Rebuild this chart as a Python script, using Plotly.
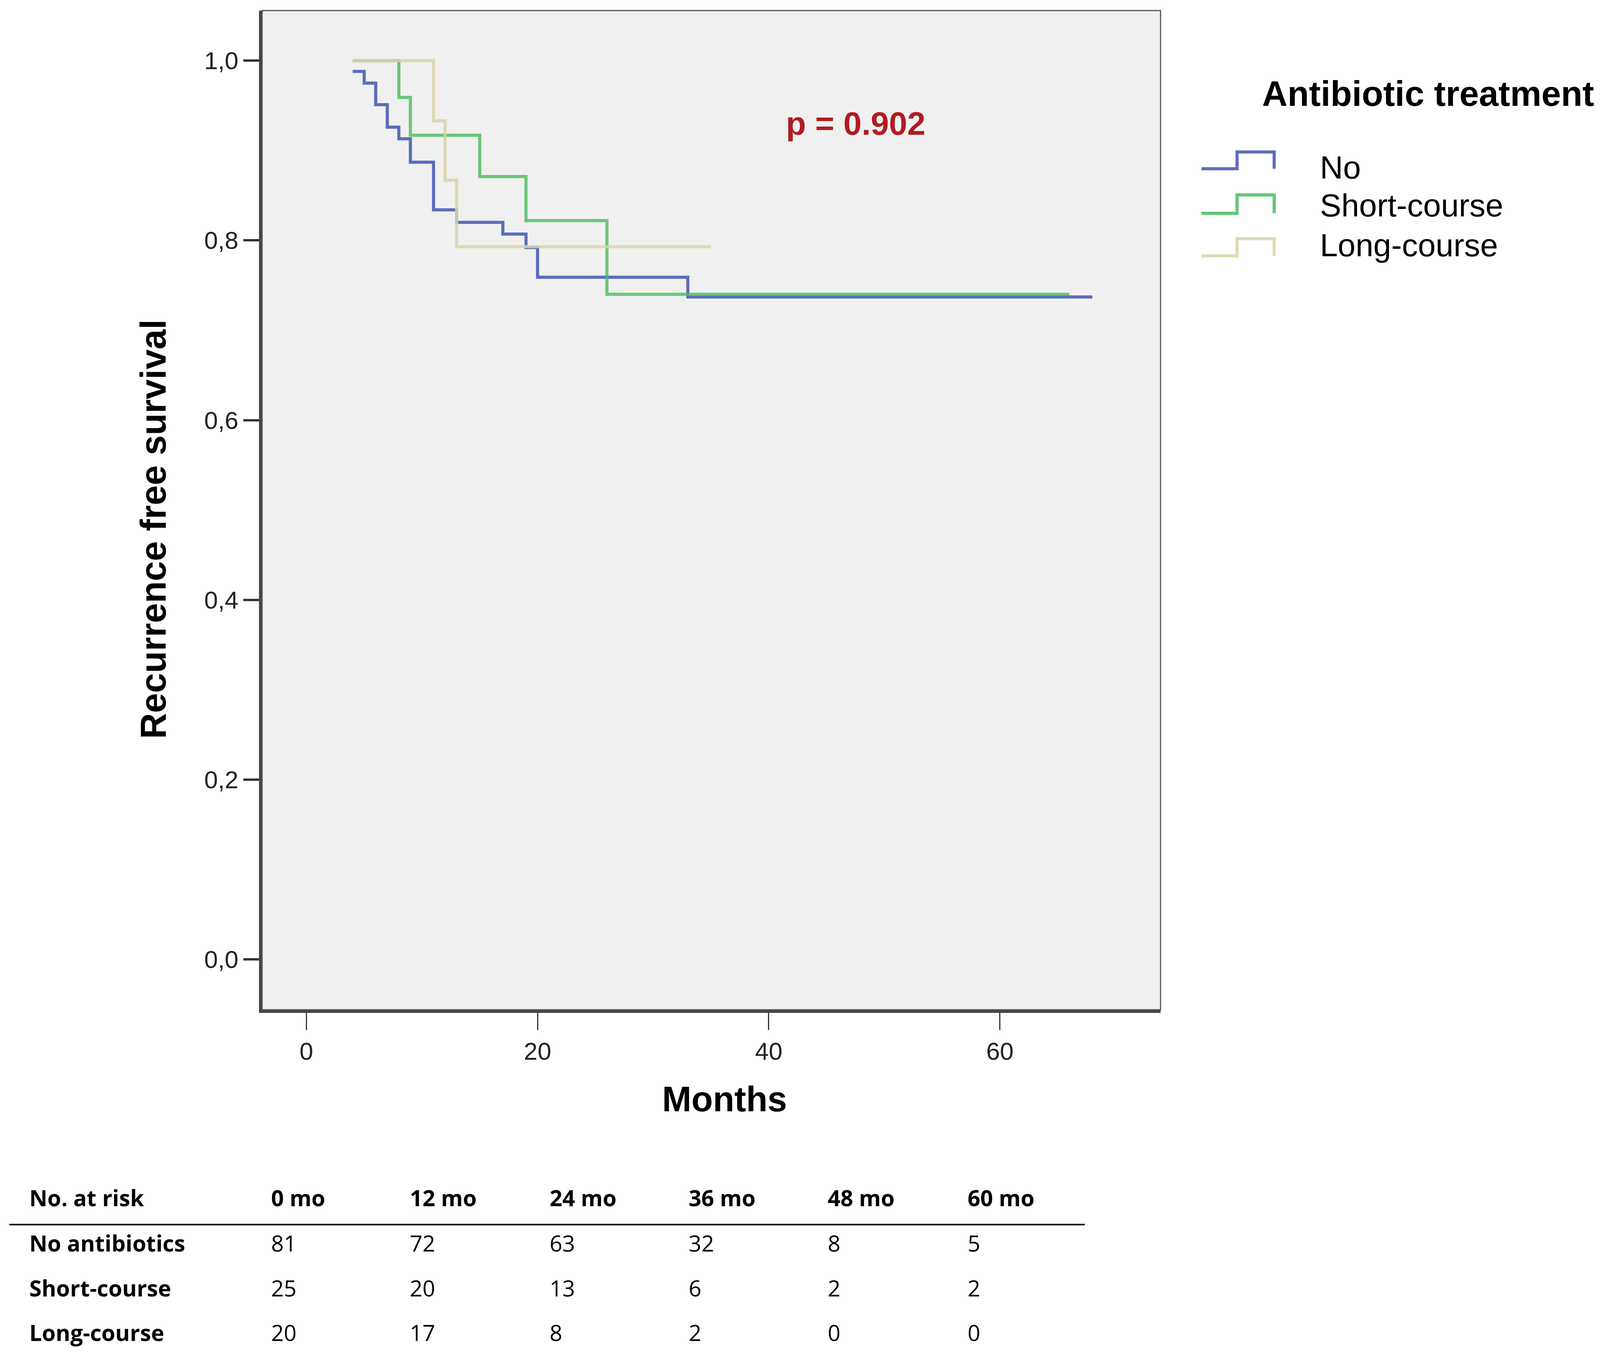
import plotly.graph_objects as go

# Kaplan-Meier steps (months, survival)
no_t = [4, 5, 6, 7, 8, 9, 11, 13, 17, 19, 20, 33, 68]
no_s = [0.988, 0.975, 0.951, 0.926, 0.913, 0.887, 0.834, 0.820, 0.807, 0.792, 0.759, 0.737, 0.737]

short_t = [4, 8, 9, 15, 19, 26, 66]
short_s = [1.0, 0.959, 0.917, 0.871, 0.822, 0.740, 0.740]

long_t = [4, 11, 12, 13, 35]
long_s = [1.0, 0.933, 0.867, 0.793, 0.793]

group_names = ["No", "Short-course", "Long-course"]
group_colors = ["#4257b2", "#47bd5a", "#dad4a9"]

p_text = "p = 0.902"

# number at risk table
risk_cols = ["0 mo", "12 mo", "24 mo", "36 mo", "48 mo", "60 mo"]
risk_rows = ["No antibiotics", "Short-course", "Long-course"]
risk_no = [81, 72, 63, 32, 8, 5]
risk_short = [25, 20, 13, 6, 2, 2]
risk_long = [20, 17, 8, 2, 0, 0]

# the visible page area is about 4094 x 3474, the figure sits 8px in from the corner
SX, SY = 4094 / 4265, 1.0
FS = 0.98
W, H = 4078, 3458


def fx(x):
    return x * SX - 8


def fy(y):
    return y * SY - 8


L, R, T, B = fx(699), fx(3095), fy(27), fy(2585)


def px(x):
    return (fx(x) - L) / (R - L)


def py(y):
    return (B - fy(y)) / (B - T)


def fs(size):
    return round(size * FS)


FONT = "Liberation Sans, Arial, sans-serif"
TFONT = "Open Sans, sans-serif"

fig = go.Figure()

series = [(no_t, no_s, 0, 0.85), (short_t, short_s, 1, 0.8), (long_t, long_s, 2, 0.85)]
for t, s, i, op in series:
    fig.add_trace(go.Scatter(
        x=t, y=s, mode="lines", line_shape="hv",
        line=dict(color=group_colors[i], width=8),
        opacity=op, name=group_names[i], showlegend=False,
    ))

shapes = []
annotations = []

# frame
shapes.append(dict(type="rect", xref="paper", yref="paper", x0=0, x1=1, y0=0, y1=1,
                   line=dict(color="#555555", width=3)))

# custom legend with step icons
annotations.append(dict(text="<b>Antibiotic treatment</b>", xref="paper", yref="paper",
                        x=px(3364), y=py(240), xanchor="left", yanchor="middle",
                        showarrow=False, font=dict(family=FONT, size=fs(92), color="black")))
icon_rows = [(432, 389, 424), (546, 499, 522), (655, 611, 623)]
for i, (low, high, ty) in enumerate(icon_rows):
    path = "M {} {} L {} {} L {} {} L {} {} L {} {}".format(
        px(3204), py(low), px(3299), py(low), px(3299), py(high),
        px(3398), py(high), px(3398), py(low))
    shapes.append(dict(type="path", xref="paper", yref="paper", path=path,
                       line=dict(color=group_colors[i], width=8), opacity=0.85))
    annotations.append(dict(text=group_names[i], xref="paper", yref="paper",
                            x=px(3518), y=py(ty + 4), xanchor="left", yanchor="middle",
                            showarrow=False, font=dict(family=FONT, size=fs(84), color="black")))

# p-value
annotations.append(dict(text="<b>" + p_text + "</b>", xref="paper", yref="paper",
                        x=px(2282), y=py(316), xanchor="center", yanchor="middle",
                        showarrow=False, font=dict(family=FONT, size=fs(86), color="#b01c22")))

# axis titles
annotations.append(dict(text="<b>Recurrence free survival</b>", xref="paper", yref="paper",
                        x=px(408), y=py(1355), xanchor="center", yanchor="middle",
                        textangle=-90, showarrow=False,
                        font=dict(family=FONT, size=fs(94), color="black")))
annotations.append(dict(text="<b>Months</b>", xref="paper", yref="paper",
                        x=px(1932), y=py(2814), xanchor="center", yanchor="middle",
                        showarrow=False, font=dict(family=FONT, size=fs(92), color="black")))

# number at risk table
col_x = [721, 1091, 1464, 1834, 2205, 2578]
row_y = [3182, 3297, 3411]
tfont = dict(family=TFONT, size=fs(58), color="black")
annotations.append(dict(text="<b>No. at risk</b>", xref="paper", yref="paper",
                        x=px(76), y=py(3066), xanchor="left", yanchor="middle",
                        showarrow=False, font=tfont))
for c, cx in zip(risk_cols, col_x):
    annotations.append(dict(text="<b>" + c + "</b>", xref="paper", yref="paper",
                            x=px(cx), y=py(3066), xanchor="left", yanchor="middle",
                            showarrow=False, font=tfont))
for name, vals, ry in zip(risk_rows, [risk_no, risk_short, risk_long], row_y):
    annotations.append(dict(text="<b>" + name + "</b>", xref="paper", yref="paper",
                            x=px(76), y=py(ry), xanchor="left", yanchor="middle",
                            showarrow=False, font=tfont))
    for v, cx in zip(vals, col_x):
        annotations.append(dict(text=str(v), xref="paper", yref="paper",
                                x=px(cx), y=py(ry), xanchor="left", yanchor="middle",
                                showarrow=False, font=tfont))
shapes.append(dict(type="line", xref="paper", yref="paper",
                   x0=px(25), x1=px(2893), y0=py(3135), y1=py(3135),
                   line=dict(color="black", width=4)))

fig.update_layout(
    width=W, height=H,
    margin=dict(l=L, r=W - R, t=T, b=H - B),
    paper_bgcolor="white", plot_bgcolor="#f0f0f0",
    separators=", ",
    showlegend=False,
    shapes=shapes, annotations=annotations,
    xaxis=dict(range=[-3.83, 73.9], tickvals=[0, 20, 40, 60], showgrid=False, zeroline=False,
               showline=True, linecolor="#444444", linewidth=8,
               ticks="outside", ticklen=44, tickwidth=3, tickcolor="#333333",
               tickfont=dict(family=FONT, size=fs(64), color="#222222")),
    yaxis=dict(range=[-0.056, 1.0557], tickvals=[0, 0.2, 0.4, 0.6, 0.8, 1.0], tickformat=".1f",
               showgrid=False, zeroline=False,
               showline=True, linecolor="#444444", linewidth=8,
               ticks="outside", ticklen=40, tickwidth=6, tickcolor="#333333",
               tickfont=dict(family=FONT, size=fs(64), color="#222222")),
)

fig.write_html("out.html")
